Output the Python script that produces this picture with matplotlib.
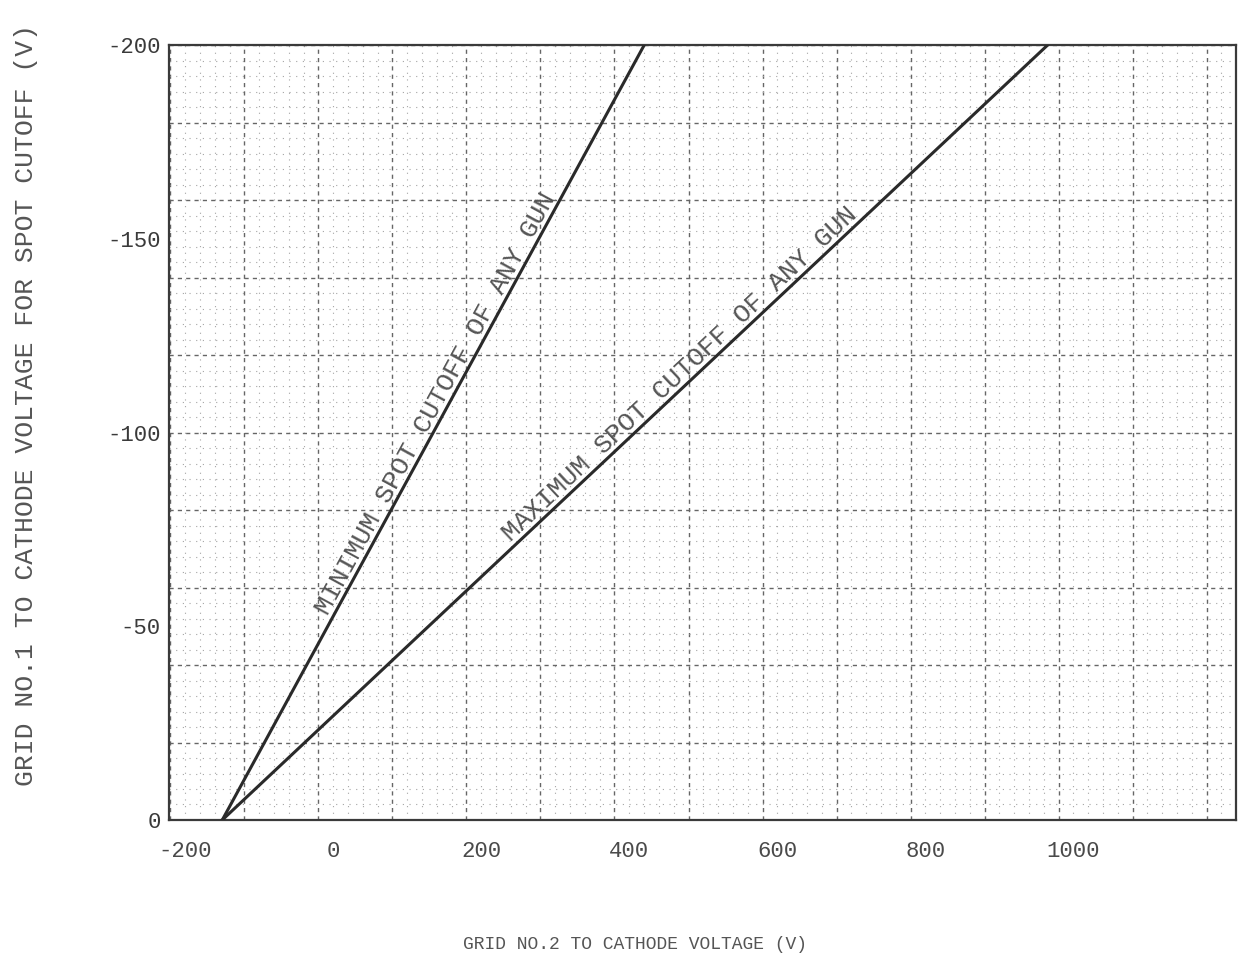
import numpy as np
import matplotlib
matplotlib.use("Agg")
import matplotlib.pyplot as plt

# Datos (voltajes en V)
min_cutoff_x = [-150, 420]
min_cutoff_y = [0, -200]
max_cutoff_x = [-150, 965]
max_cutoff_y = [0, -200]

x_ticks = [-200, 0, 200, 400, 600, 800, 1000]
x_labels = ["-200", "0", "200", "400", "600", "800", "1000"]
y_ticks = [0, -50, -100, -150, -200]
y_labels = ["0", "-50", "-100", "-150", "-200"]

min_label = "MINIMUM SPOT CUTOFF OF ANY GUN"
max_label = "MAXIMUM SPOT CUTOFF OF ANY GUN"

plt.rcParams["font.family"] = ["Liberation Mono", "DejaVu Sans Mono"]
ink = "#3a3a3a"

fig = plt.figure(figsize=(12.38, 9.63), dpi=100)
ax = fig.add_axes([0.1365, 0.1485, 0.862, 0.8045])
ax.set_xlim(-222, 1220)
ax.set_ylim(0, -200)

# papel milimetrado (cuadricula impresa)
for gx in np.arange(-220, 1221, 20):
    major = round(gx + 220) % 100 == 0
    ax.axvline(gx, color="#666666" if major else "#a5a5a5",
               lw=1.0 if major else 0.8,
               ls=(0, (3, 3)) if major else (0, (1, 5)), zorder=1)
for gy in np.arange(0, -201, -4):
    major = gy % 20 == 0
    ax.axhline(gy, color="#666666" if major else "#a5a5a5",
               lw=1.0 if major else 0.8,
               ls=(0, (3, 3)) if major else (0, (1, 5)), zorder=1)

# rectas de corte
ax.plot(min_cutoff_x, min_cutoff_y, color="#2a2a2a", lw=2.2, zorder=3)
ax.plot(max_cutoff_x, max_cutoff_y, color="#2a2a2a", lw=2.2, zorder=3)

fig.canvas.draw()


def label_on_line(xs, ys, y_at, text):
    x_at = xs[0] + (xs[1] - xs[0]) * (y_at - ys[0]) / (ys[1] - ys[0])
    p0 = ax.transData.transform((xs[0], ys[0]))
    p1 = ax.transData.transform((xs[1], ys[1]))
    ang = np.degrees(np.arctan2(p1[1] - p0[1], p1[0] - p0[0]))
    ax.text(x_at, y_at, text, rotation=ang, rotation_mode="anchor",
            ha="center", va="bottom", fontsize=19, color="#555555", zorder=4)


label_on_line(min_cutoff_x, min_cutoff_y, -106, min_label)
label_on_line(max_cutoff_x, max_cutoff_y, -113, max_label)

ax.set_xticks(x_ticks)
ax.set_xticklabels(x_labels)
ax.set_yticks(y_ticks)
ax.set_yticklabels(y_labels)
ax.tick_params(axis="x", length=0, pad=15, labelsize=16, labelcolor="#4a4a4a")
ax.tick_params(axis="y", length=0, pad=6, labelsize=16, labelcolor="#3a3a3a")

for side in ["left", "bottom", "top", "right"]:
    ax.spines[side].set_color(ink)
    ax.spines[side].set_linewidth(1.6)

fig.text(0.513, 1 - 944 / 963, "GRID NO.2 TO CATHODE VOLTAGE (V)",
         ha="center", va="center", fontsize=13, color="#555555")
fig.text(0.021, 1 - 405 / 963, "GRID NO.1 TO CATHODE VOLTAGE FOR SPOT CUTOFF (V)",
         ha="center", va="center", rotation=90, fontsize=19, color="#555555")

fig.savefig("out.png", dpi=100, facecolor="white")
